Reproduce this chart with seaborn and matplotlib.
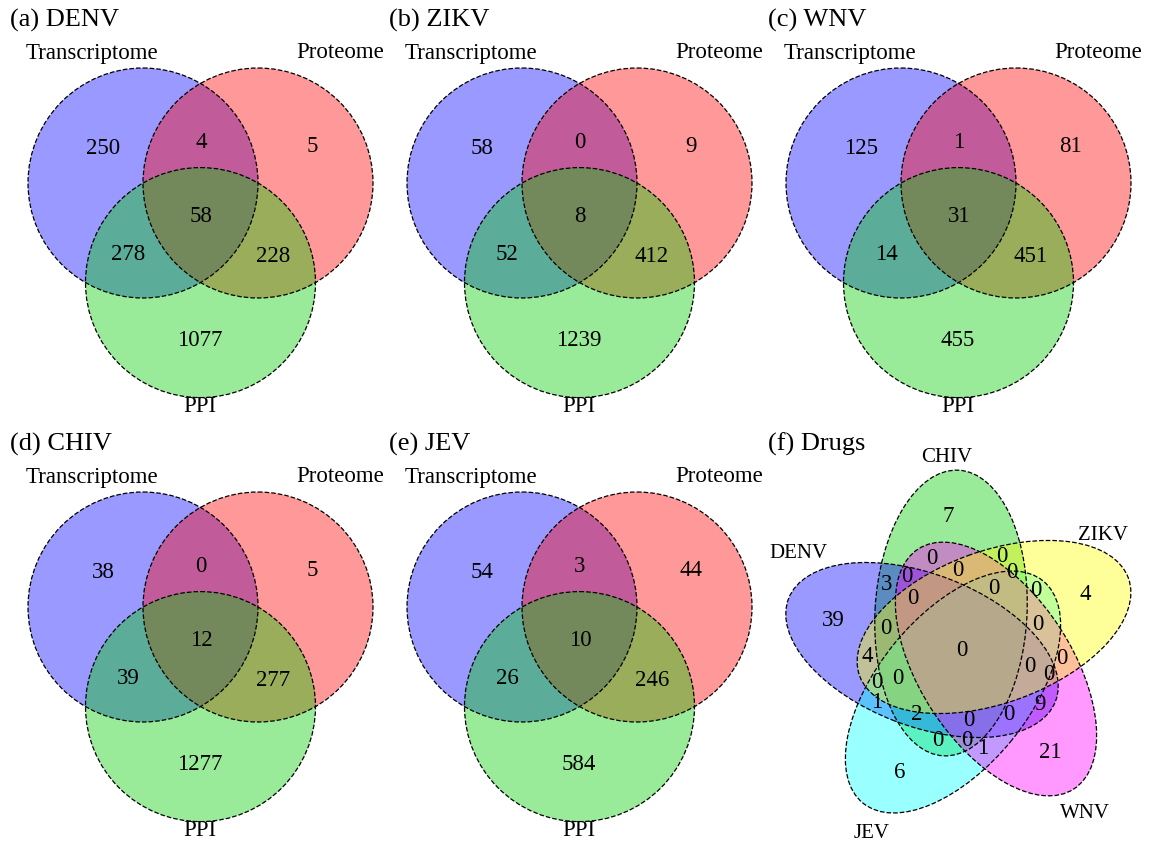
import numpy as np
import matplotlib
matplotlib.use("Agg")
import matplotlib.pyplot as plt
from matplotlib.patches import Circle, Ellipse
import seaborn as sns

sns.set_theme(style="white")
plt.rcParams['font.family'] = ['Liberation Serif', 'DejaVu Serif']
plt.rcParams['text.color'] = 'black'

# ---- data ----
titles = ['(a) DENV', '(b) ZIKV', '(c) WNV', '(d) CHIV', '(e) JEV']
set_names = ['Transcriptome', 'Proteome', 'PPI']
# order: T only, T&P, P only, T&P&PPI, T&PPI, P&PPI, PPI only
denv = [250, 4, 5, 58, 278, 228, 1077]
zikv = [58, 0, 9, 8, 52, 412, 1239]
wnv = [125, 1, 81, 31, 14, 451, 455]
chiv = [38, 0, 5, 12, 39, 277, 1277]
jev = [54, 3, 44, 10, 26, 246, 584]
gene_counts = [denv, zikv, wnv, chiv, jev]

virus_names = ['DENV', 'CHIV', 'ZIKV', 'WNV', 'JEV']
drug_counts = [7, 39, 4, 21, 6, 0, 3, 0, 0, 0, 0, 0, 0, 0, 0, 0,
               0, 4, 0, 0, 0, 0, 0, 9, 1, 2, 0, 0, 0, 0, 1]

# ---- layout (pixels inside a panel) ----
PW, PH = 379, 424
circle_col = [(0, 0, 1), (1, 0, 0), (0, 0.8, 0)]
r = 115
cx, cy = 200.5, 216.2
circ_xy = [(cx - r / 2, cy - r / (2 * np.sqrt(3))),
           (cx + r / 2, cy - r / (2 * np.sqrt(3))),
           (cx, cy + r / np.sqrt(3))]
name_xy = [(92, 53), (340, 53), (200, 407)]
region_xy = [(103, 148), (201, 143), (312, 147), (201, 216),
             (128, 255), (273, 257), (200, 340)]

# five-set panel: center (x, y), visual tilt in degrees
ell_col = {'DENV': (0, 0, 1), 'CHIV': (0, 0.8, 0), 'ZIKV': (1, 1, 0),
           'WNV': (1, 0, 1), 'JEV': (0, 1, 1)}
draw_order = ['CHIV', 'DENV', 'JEV', 'WNV', 'ZIKV']
ell_a, ell_b = 143, 76
ell_geom = {'DENV': ((164, 226), 159), 'CHIV': ((193, 189), 87),
            'ZIKV': ((236, 203), 20), 'WNV': ((238, 245), -57),
            'JEV': ((195, 268), -129)}
virus_xy = {'DENV': (40, 129), 'CHIV': (189, 34), 'ZIKV': (345, 112),
            'WNV': (327, 389), 'JEV': (114, 409)}
drug_xy = [(190, 93), (75, 196), (327, 171), (292, 328), (142, 349),
           (204, 226), (129, 160), (149, 153), (174, 134), (200, 146),
           (244, 132), (254, 149), (236, 164), (278, 166), (155, 174),
           (128, 204), (280, 201), (109, 233), (304, 235), (272, 243),
           (291, 251), (140, 254), (119, 259), (282, 281), (119, 278),
           (159, 291), (211, 296), (251, 291), (180, 317), (209, 317),
           (225, 324)]

W, H = 1159, 841
fig = plt.figure(figsize=(W / 100, H / 100), dpi=100)


def panel_axes(row, col):
    ax = fig.add_axes([col * PW / W, 1 - (row + 1) * PH / H, PW / W, PH / H])
    ax.set_xlim(0, PW)
    ax.set_ylim(PH, 0)
    ax.set_axis_off()
    return ax


for i, counts in enumerate(gene_counts):
    ax = panel_axes(i // 3, i % 3)
    for xy, c in zip(circ_xy, circle_col):
        ax.add_patch(Circle(xy, r, facecolor=c, edgecolor='none', alpha=0.4))
    for xy in circ_xy:
        ax.add_patch(Circle(xy, r, fill=False, edgecolor='black', lw=0.9, ls='--'))
    for (x, y), v in zip(region_xy, counts):
        ax.text(x, y, str(v), ha='center', va='center', fontsize=16.5)
    for (x, y), s in zip(name_xy, set_names):
        ax.text(x, y, s, ha='center', va='center', fontsize=16.5)
    ax.text(10, 20, titles[i], ha='left', va='center', fontsize=19)

# drugs panel
ax = panel_axes(1, 2)
for name in draw_order:
    xy, tilt = ell_geom[name]
    # y axis points down, so the tilt flips sign
    ax.add_patch(Ellipse(xy, 2 * ell_a, 2 * ell_b, angle=-tilt,
                         facecolor=ell_col[name], edgecolor='none', alpha=0.4))
for name in draw_order:
    xy, tilt = ell_geom[name]
    ax.add_patch(Ellipse(xy, 2 * ell_a, 2 * ell_b, angle=-tilt, fill=False,
                         edgecolor='black', lw=0.9, ls='--'))
for (x, y), v in zip(drug_xy, drug_counts):
    ax.text(x, y, str(v), ha='center', va='center', fontsize=16.5)
for name in virus_names:
    x, y = virus_xy[name]
    ax.text(x, y, name, ha='center', va='center', fontsize=15)
ax.text(10, 20, '(f) Drugs', ha='left', va='center', fontsize=19)

fig.savefig('out.png', dpi=100)
